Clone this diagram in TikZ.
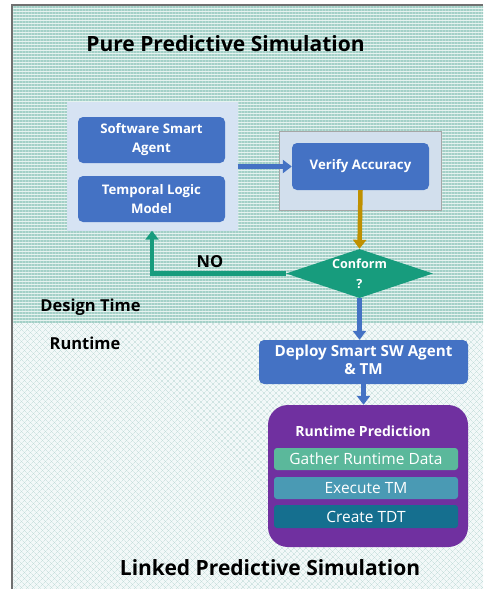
\documentclass[tikz,border=0pt]{standalone}
\usepackage{fontspec}
\setmainfont{Open Sans}
\usepackage{tikz}
\usetikzlibrary{shapes.geometric, arrows.meta, patterns.meta}
\definecolor{blue1}{HTML}{4472C4}
\definecolor{blue2}{HTML}{D6E3F3}
\definecolor{blue3}{HTML}{D2DFED}
\definecolor{gray1}{HTML}{707070}
\definecolor{gray2}{HTML}{A6A6A6}
\definecolor{green1}{HTML}{179C7D}
\definecolor{gold1}{HTML}{BF9000}
\definecolor{purple1}{HTML}{7030A0}
\definecolor{teal1}{HTML}{5BB89B}
\definecolor{teal2}{HTML}{4A9AB4}
\definecolor{teal3}{HTML}{156F8F}
\definecolor{stripe1}{HTML}{E6F3F0}
\definecolor{stripe2}{HTML}{A3D0C7}
\definecolor{hatch1}{HTML}{F2F8F8}
\definecolor{hatch2}{HTML}{BFDAD7}

\begin{document}
\begin{tikzpicture}[x=1pt, y=-1pt]
\tikzstyle{box} = [rectangle, rounded corners=5pt, fill=blue1, text=white, font=\bfseries\fontsize{13.2}{19}\selectfont, align=center, inner sep=0pt]
\tikzstyle{panel} = [rectangle, inner sep=0pt]
\tikzstyle{task} = [rectangle, rounded corners=3pt, text=white, font=\fontsize{15.5}{17}\selectfont, minimum width=184pt, minimum height=22pt, inner sep=0pt]
\tikzstyle{title} = [font=\bfseries\fontsize{21}{24}\selectfont]
\tikzstyle{label} = [font=\bfseries\fontsize{16.5}{19}\selectfont]
\tikzstyle{arrow} = [line width=4.5pt, -{Triangle[width=13pt, length=9pt]}]

\useasboundingbox (0,0) rectangle (483,589);

% design time and runtime areas
\fill [stripe1] (13,6) rectangle (483,323);
\fill [pattern={Lines[angle=0, distance=3pt, line width=1.1pt]}, pattern color=stripe2] (13,6) rectangle (483,323);
\fill [hatch1] (13,323) rectangle (483,589);
\fill [pattern={Lines[angle=45, distance=4pt, line width=0.4pt]}, pattern color=hatch2] (13,323) rectangle (483,589);
\fill [pattern={Lines[angle=-45, distance=4pt, line width=0.4pt]}, pattern color=hatch2] (13,323) rectangle (483,589);
\draw [gray1, line width=2pt] (12,589)--(12,5)--(483,5);

\node [title] (pure) at (225.5,44) {Pure Predictive Simulation};
\node [title] (linked) at (270,568) {Linked Predictive Simulation};
\node [label] (design) at (90.5,307) {Design Time};
\node [label] (runtime) at (85,343) {Runtime};

% models
\node [panel, fill=blue2, minimum width=171pt, minimum height=129pt] (models) at (152,166) {};
\node [box, minimum width=147pt, minimum height=46pt] (agent) at (151.5,140) {Software Smart\\Agent};
\node [box, minimum width=147pt, minimum height=46pt] (logic) at (151.5,199) {Temporal Logic\\Model};

% verification
\node [panel, fill=blue3, draw=gray2, line width=0.6pt, minimum width=162pt, minimum height=79pt] (verifypanel) at (360,170.5) {};
\node [box, minimum width=137pt, minimum height=47pt] (verify) at (360.5,166.5) {Verify Accuracy};
\node [diamond, aspect=3, fill=green1, text=white, inner sep=0pt, minimum width=147pt, minimum height=49pt, align=center, font=\bfseries\fontsize{12.6}{20}\selectfont] (conform) at (359.5,273.5) {Conform\\?};
\node [label] (no) at (210,262) {NO};

% runtime
\node [box, minimum width=209pt, minimum height=44pt, font=\bfseries\fontsize{15.2}{19}\selectfont] (deploy) at (363.5,362) {\begin{tabular}{@{}c@{}}Deploy Smart SW Agent\\[-1pt]\& TM\end{tabular}};
\node [rectangle, rounded corners=20pt, fill=purple1, minimum width=200pt, minimum height=142pt] (predict) at (368,476) {};
\node [text=white, font=\bfseries\fontsize{14}{16}\selectfont] (predicttitle) at (363,431) {Runtime Prediction};
\node [task, fill=teal1] (gather) at (366,459) {Gather Runtime Data};
\node [task, fill=teal2] (execute) at (366,488) {Execute TM};
\node [task, fill=teal3, minimum height=23pt] (create) at (366,516.5) {Create TDT};

\draw [arrow, blue1] (models.east |- verify.west)--(verify.west);
\draw [arrow, gold1] (verify.south)--(conform.north);
\draw [arrow, green1] (conform.west)--(152,273.5)--(models.south);
\draw [arrow, blue1] (conform.south)--(conform.south |- deploy.north);
\draw [arrow, blue1] (deploy.south)--(deploy.south |- predict.north);
\end{tikzpicture}
\end{document}
